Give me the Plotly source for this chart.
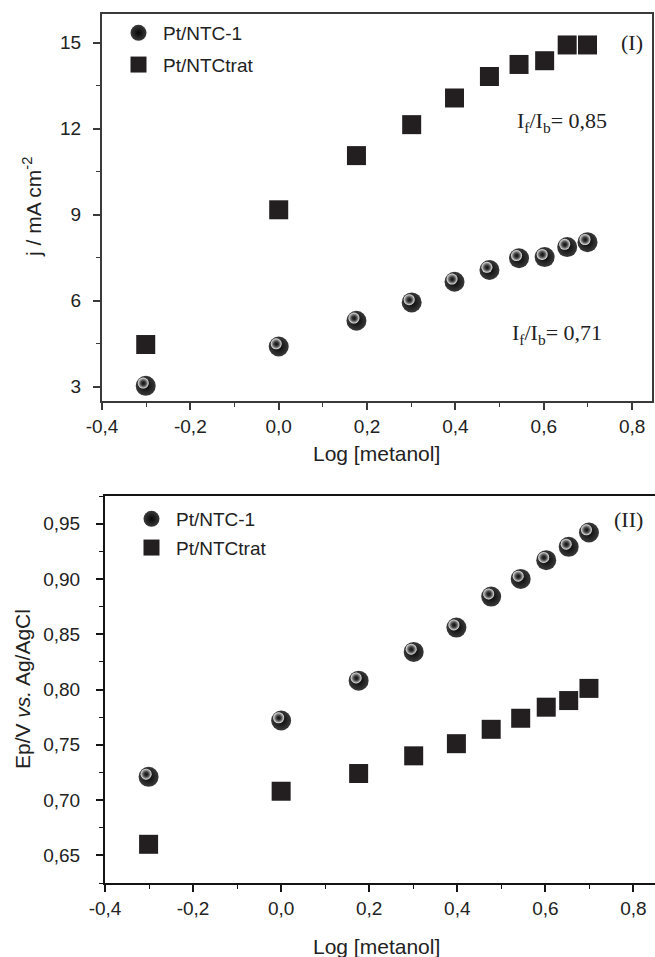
import plotly.graph_objects as go

W, H = 655, 957

# log of methanol concentration (0.5 ... 5 M)
log_conc = [-0.301, 0.0, 0.176, 0.301, 0.398, 0.477, 0.544, 0.602, 0.653, 0.699]

# panel (I): current density, mA cm^-2
j_ntc1 = [3.03, 4.40, 5.30, 5.94, 6.66, 7.07, 7.48, 7.52, 7.87, 8.04]
j_ntctrat = [4.47, 9.17, 11.06, 12.14, 13.07, 13.82, 14.24, 14.37, 14.92, 14.92]

# panel (II): peak potential, V vs. Ag/AgCl
ep_ntc1 = [0.721, 0.772, 0.808, 0.834, 0.856, 0.884, 0.900, 0.917, 0.929, 0.942]
ep_ntctrat = [0.660, 0.708, 0.724, 0.740, 0.751, 0.764, 0.774, 0.784, 0.790, 0.801]

series_names = ["Pt/NTC-1", "Pt/NTCtrat"]
ratio_labels = ["I<sub>f</sub>/I<sub>b</sub>= 0,85", "I<sub>f</sub>/I<sub>b</sub>= 0,71"]
panel_labels = ["(I)", "(II)"]

x_tickvals = [-0.4, -0.2, 0.0, 0.2, 0.4, 0.6, 0.8]
x_ticktext = ["-0,4", "-0,2", "0,0", "0,2", "0,4", "0,6", "0,8"]
j_tickvals = [3, 6, 9, 12, 15]
j_ticktext = ["3", "6", "9", "12", "15"]
ep_tickvals = [0.65, 0.70, 0.75, 0.80, 0.85, 0.90, 0.95]
ep_ticktext = ["0,65", "0,70", "0,75", "0,80", "0,85", "0,90", "0,95"]

# plot boxes in pixels: left, right, top, bottom
BOX1 = (102, 652, 14, 401)
BOX2 = (105, 655, 496, 883)
X1_RANGE = [-0.4, 0.845]
Y1_RANGE = [2.5, 16.0]
X2_RANGE = [-0.4, 0.849]
Y2_RANGE = [0.625, 0.975]

SANS = "Liberation Sans, Arial, sans-serif"
SERIF = "Liberation Serif, Times New Roman, serif"
INK = "#231f20"


def xdom(box):
    return [box[0] / W, box[1] / W]


def ydom(box):
    return [1 - box[3] / H, 1 - box[2] / H]


def shifted(rng, box_len, px):
    # range offset that moves markers by `px` pixels (used for sphere highlights)
    d = (rng[1] - rng[0]) / box_len * px
    return [rng[0] + d, rng[1] + d]


fig = go.Figure()

sphere = dict(symbol="circle", size=20, color="#3a3a3a",
              gradient=dict(type="radial", color="#050505"), line=dict(width=0))
shine = dict(symbol="circle", size=11, color="#f4f4f4",
             gradient=dict(type="radial", color="rgba(30,30,30,0)"), line=dict(width=0))
square = dict(symbol="square", size=19, color=INK, line=dict(width=0))

panels = [
    (j_ntc1, j_ntctrat, "x", "y", "x3", "y3", "legend"),
    (ep_ntc1, ep_ntctrat, "x2", "y2", "x4", "y4", "legend2"),
]
for a, b, xa, ya, xs, ys, lg in panels:
    fig.add_trace(go.Scatter(x=log_conc, y=a, mode="markers", name=series_names[0],
                             marker=sphere, xaxis=xa, yaxis=ya, legend=lg,
                             legendgroup=lg + "a"))
    fig.add_trace(go.Scatter(x=log_conc, y=a, mode="markers", marker=shine,
                             xaxis=xs, yaxis=ys, showlegend=False, hoverinfo="skip"))
    fig.add_trace(go.Scatter(x=log_conc, y=b, mode="markers", name=series_names[1],
                             marker=square, xaxis=xa, yaxis=ya, legend=lg,
                             legendgroup=lg + "b"))

tickfont = dict(family=SANS, size=19, color="#222")


def xaxis_style(box, rng, color):
    return dict(domain=xdom(box), range=rng, tickmode="array", tickvals=x_tickvals,
                ticktext=x_ticktext, ticks="outside", ticklen=7, tickwidth=1.5,
                tickcolor=color, showline=True, linecolor=color, linewidth=2,
                showgrid=False, zeroline=False, tickfont=tickfont,
                ticklabelstandoff=0, automargin=False,
                minor=dict(ticks="outside", ticklen=4, tickwidth=1.2, tickcolor=color,
                           tickmode="linear", tick0=-0.4, dtick=0.1, showgrid=False))


def yaxis_style(box, rng, vals, text, color, mdt, m0, standoff):
    return dict(domain=ydom(box), range=rng, tickmode="array", tickvals=vals,
                ticktext=text, ticks="outside", ticklen=7, tickwidth=1.5,
                tickcolor=color, showline=True, linecolor=color, linewidth=2,
                showgrid=False, zeroline=False, tickfont=tickfont,
                ticklabelstandoff=standoff, automargin=False,
                minor=dict(ticks="outside", ticklen=4, tickwidth=1.2, tickcolor=color,
                           tickmode="linear", tick0=m0, dtick=mdt, showgrid=False))


c1, c2 = "#3a3a3a", "#141414"
x1 = xaxis_style(BOX1, X1_RANGE, c1)
x1.update(mirror=True, anchor="y")
y1 = yaxis_style(BOX1, Y1_RANGE, j_tickvals, j_ticktext, c1, 1.5, 3, 8)
y1.update(mirror=True, anchor="x")
x2 = xaxis_style(BOX2, X2_RANGE, c2)
x2.update(mirror=True, anchor="y2")
y2 = yaxis_style(BOX2, Y2_RANGE, ep_tickvals, ep_ticktext, c2, 0.025, 0.65, 12)
y2.update(mirror=False, anchor="x2")

w1, h1 = BOX1[1] - BOX1[0], BOX1[3] - BOX1[2]
w2, h2 = BOX2[1] - BOX2[0], BOX2[3] - BOX2[2]
hidden = dict(visible=False, showgrid=False, zeroline=False, automargin=False)

fig.update_layout(
    width=W, height=H, margin=dict(l=0, r=0, t=0, b=0, autoexpand=False),
    paper_bgcolor="white", plot_bgcolor="white",
    xaxis=x1, yaxis=y1, xaxis2=x2, yaxis2=y2,
    xaxis3=dict(overlaying="x", range=shifted(X1_RANGE, w1, 2.5), anchor="y3", **hidden),
    yaxis3=dict(overlaying="y", range=shifted(Y1_RANGE, h1, -2.7), anchor="x3", **hidden),
    xaxis4=dict(overlaying="x2", range=shifted(X2_RANGE, w2, 2.5), anchor="y4", **hidden),
    yaxis4=dict(overlaying="y2", range=shifted(Y2_RANGE, h2, -2.7), anchor="x4", **hidden),
    legend=dict(x=114 / W, y=1 - 14 / H, xanchor="left", yanchor="top",
                font=dict(family=SANS, size=19, color="#222"), itemwidth=39,
                traceorder="grouped", tracegroupgap=4, bgcolor="rgba(0,0,0,0)"),
    legend2=dict(x=127 / W, y=1 - 500 / H, xanchor="left", yanchor="top",
                 font=dict(family=SANS, size=19, color="#222"), itemwidth=39,
                 traceorder="grouped", tracegroupgap=1, bgcolor="rgba(0,0,0,0)"),
    showlegend=True,
)

title_font = dict(family=SANS, size=21, color="#222")
serif_font = dict(family=SERIF, size=22, color="#222")
ann = [
    # axis titles
    dict(text="Log [metanol]", x=376 / W, y=1 - 453 / H, xref="paper", yref="paper",
         showarrow=False, font=title_font, xanchor="center", yanchor="middle"),
    dict(text="Log [metanol]", x=376 / W, y=1 - 946 / H, xref="paper", yref="paper",
         showarrow=False, font=title_font, xanchor="center", yanchor="middle"),
    dict(text="j / mA cm<sup>-2</sup>", x=32 / W, y=1 - 207 / H, xref="paper",
         yref="paper", showarrow=False, font=title_font, textangle=-90,
         xanchor="center", yanchor="middle"),
    dict(text="Ep/V <i>vs.</i> Ag/AgCl", x=22 / W, y=1 - 689 / H, xref="paper",
         yref="paper", showarrow=False, font=title_font, textangle=-90,
         xanchor="center", yanchor="middle"),
    # panel labels and current ratios
    dict(text=panel_labels[0], x=645 / W, y=1 - 43 / H, xref="paper", yref="paper",
         showarrow=False, font=serif_font, xanchor="right", yanchor="middle"),
    dict(text=panel_labels[1], x=645 / W, y=1 - 519 / H, xref="paper", yref="paper",
         showarrow=False, font=serif_font, xanchor="right", yanchor="middle"),
    dict(text=ratio_labels[0], x=515 / W, y=1 - 122 / H, xref="paper", yref="paper",
         showarrow=False, font=serif_font, xanchor="left", yanchor="middle"),
    dict(text=ratio_labels[1], x=510 / W, y=1 - 334 / H, xref="paper", yref="paper",
         showarrow=False, font=serif_font, xanchor="left", yanchor="middle"),
]
fig.update_layout(annotations=ann)

fig.write_html("out.html")
